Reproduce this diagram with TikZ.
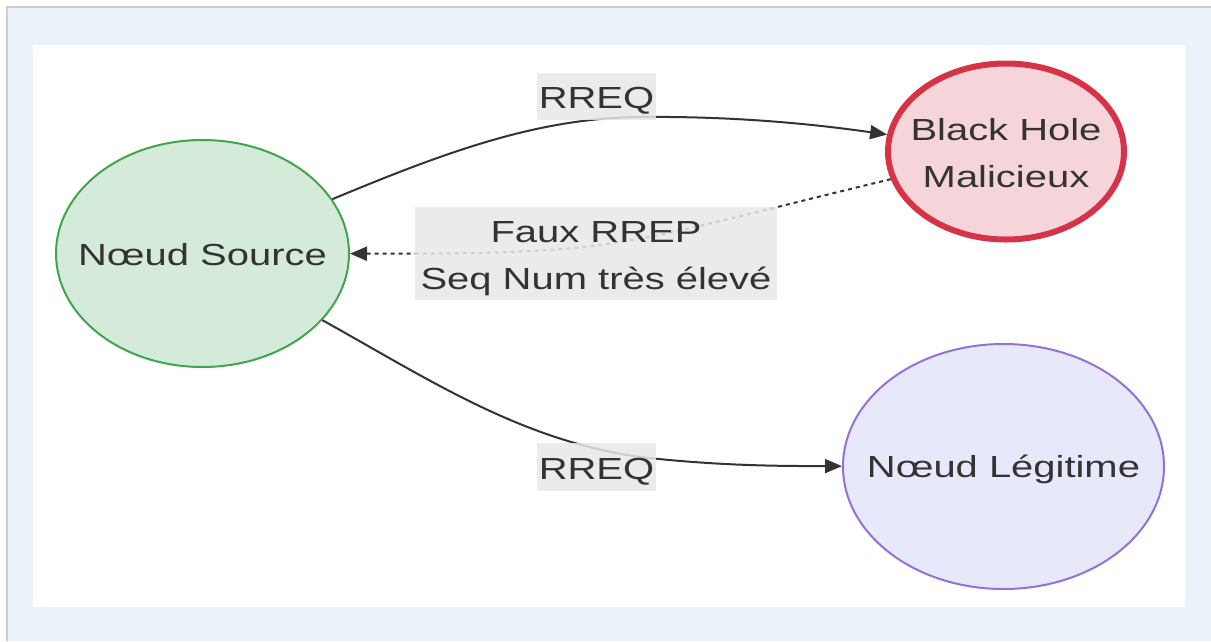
\documentclass[tikz,border=0pt]{standalone}
\usepackage{fontspec}
\setmainfont{Liberation Sans}
\usetikzlibrary{shapes.geometric,arrows.meta}

\definecolor{pagebg}{HTML}{EBF2FA}
\definecolor{pageline}{HTML}{CDCDCD}
\definecolor{ink}{HTML}{333333}
\definecolor{srcfill}{HTML}{D5EBDA}
\definecolor{srcline}{HTML}{3FA54E}
\definecolor{bhfill}{HTML}{F6D5DA}
\definecolor{bhline}{HTML}{D63347}
\definecolor{lgfill}{HTML}{E8E8FB}
\definecolor{lgline}{HTML}{9272D8}
\definecolor{lblgray}{HTML}{E8E8E8}

% wide lettering used throughout
\newcommand{\widetext}[1]{\scalebox{1.31}[1]{#1}}

\tikzset{
  nodeshape/.style={ellipse, inner sep=0pt},
  txt/.style={anchor=base, inner sep=0pt, text=ink,
    font=\fontsize{30.5}{36}\selectfont},
  conn/.style={draw=ink, line width=2pt,
    -{Triangle[length=17pt,width=14pt]}},
  dotconn/.style={conn, dash pattern=on 4pt off 4pt},
  lblbox/.style={rectangle, inner sep=0pt, fill=lblgray, fill opacity=0.85}
}

\begin{document}
\begin{tikzpicture}[x=1pt,y=-1pt]
  \useasboundingbox (0,0) rectangle (1211,641);

  % page background and frame
  \fill[white] (0,0) rectangle (1211,641);
  \fill[pagebg] (6,6) rectangle (1211,641);
  \draw[pageline, line width=1.5pt] (6.75,641) -- (6.75,6.75) -- (1211,6.75);
  \fill[white] (33,45) rectangle (1185,607);

  % nodes
  \node[nodeshape, fill=srcfill, draw=srcline, line width=2pt,
        minimum width=293pt, minimum height=227pt] (src) at (202.5,253.5) {};
  \node[nodeshape, fill=bhfill, draw=bhline, line width=6pt,
        minimum width=236pt, minimum height=176pt] (bh) at (1006,151.5) {};
  \node[nodeshape, fill=lgfill, draw=lgline, line width=2pt,
        minimum width=321pt, minimum height=245pt] (lg) at (1003.5,466.5) {};

  % connectors
  \coordinate (topmid) at (640,117);
  \coordinate (botmid) at (640,457);
  \draw[conn] (src) .. controls (450,150) and (540,118) .. (topmid)
                    .. controls (740,116) and (820,125) .. (bh);
  \draw[conn] (src) .. controls (430,380) and (520,440) .. (botmid)
                    .. controls (720,466) and (780,466) .. (lg);
  \draw[dotconn] (bh) .. controls (613,246) and (628,254) .. (src);

  % edge label boxes
  \node[lblbox, minimum width=119pt, minimum height=47pt] (l1) at (596.5,96.5) {};
  \node[lblbox, minimum width=119pt, minimum height=48pt] (l2) at (596.5,467) {};
  \node[lblbox, minimum width=362pt, minimum height=93pt] (l3) at (596,253.5) {};

  % texts
  \node[txt] (srcT) at (202.5,265) {\widetext{Nœud Source}};
  \node[txt] (bhT1) at (1006,140) {\widetext{Black Hole}};
  \node[txt] (bhT2) at (1006,187) {\widetext{Malicieux}};
  \node[txt] (lgT) at (1003.5,477) {\widetext{Nœud Légitime}};
  \node[txt] (l1T) at (596.5,108) {\widetext{RREQ}};
  \node[txt] (l2T) at (596.5,479) {\widetext{RREQ}};
  \node[txt] (l3T1) at (596,242) {\widetext{Faux RREP}};
  \node[txt] (l3T2) at (596,289) {\widetext{Seq Num très élevé}};
\end{tikzpicture}
\end{document}
